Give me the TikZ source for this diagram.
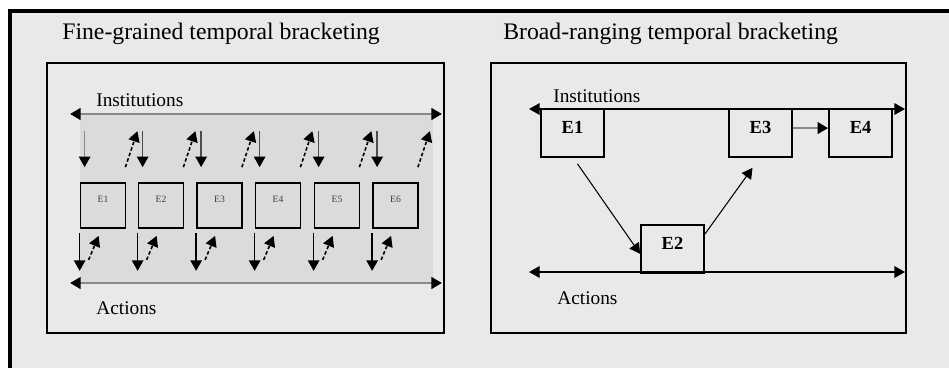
\documentclass[tikz,border=0pt]{standalone}
\usepackage{fontspec}
\setmainfont{Liberation Serif}
\usetikzlibrary{arrows.meta}
\definecolor{panelgray}{HTML}{E9E9E9}
\definecolor{bandgray}{HTML}{DBDBDB}
\definecolor{linegray}{HTML}{8A8A8A}

\begin{document}
\begin{tikzpicture}[x=0.02cm, y=-0.02cm,
    >={Triangle[length=6pt, width=6.5pt, color=black]},
    title/.style={anchor=base west, inner sep=0pt, font=\fontsize{13.5}{16}\selectfont},
    lvl/.style={anchor=west, inner sep=0pt, font=\fontsize{11}{13}\selectfont},
    ebox/.style={draw, line width=1pt, minimum width=0.9cm, minimum height=0.9cm, inner sep=0pt},
    elbl/.style={yshift=3.7pt, inner sep=0pt, text=black!75, font=\fontsize{5.5}{6}\selectfont},
    bigbox/.style={draw, line width=1pt, minimum width=1.26cm, minimum height=0.96cm, inner sep=0pt},
    biglbl/.style={yshift=3pt, inner sep=0pt, font=\bfseries\fontsize{10.5}{12}\selectfont},
    dsh/.style={->, line width=0.9pt, dash pattern=on 2pt off 1.3pt}]
  \useasboundingbox (0,0) rectangle (949,368);
  \clip (0,0) rectangle (949,368);

  % Outer frame (runs off the page at right and bottom)
  \draw[line width=2pt, fill=panelgray] (10,11) rectangle (990,400);

  % ---- Left panel: fine-grained ----
  \node[title] (ltitle) at (62,40) {Fine-grained temporal bracketing};
  \draw[line width=0.9pt] (47,63) rectangle (444,333);
  \fill[bandgray] (80,114) rectangle (433,283);

  \coordinate (linstA) at (70,114);
  \coordinate (linstB) at (442,114);
  \coordinate (lactA) at (70,283);
  \coordinate (lactB) at (442,283);
  \draw[<->, linegray, line width=1.6pt] (linstA) -- (linstB);
  \draw[<->, linegray, line width=1.6pt] (lactA) -- (lactB);
  \node[lvl] (linst) at (96,100) {Institutions};
  \node[lvl] (lact) at (96,308) {Actions};

  % Events placed horizontally
  \node[ebox, label={[elbl]center:E1}] (e1) at (103,205.5) {};
  \node[ebox, label={[elbl]center:E2}] (e2) at (161,205.5) {};
  \node[ebox, label={[elbl]center:E3}] (e3) at (219.5,205.5) {};
  \node[ebox, label={[elbl]center:E4}] (e4) at (278,205.5) {};
  \node[ebox, label={[elbl]center:E5}] (e5) at (337,205.5) {};
  \node[ebox, label={[elbl]center:E6}] (e6) at (395.5,205.5) {};

  % Institutions down to events
  \draw[->, linegray, line width=0.9pt] ([shift={(5,-51)}]e1.north west) -- ([shift={(5,-15)}]e1.north west);
  \draw[->, black!70, line width=0.9pt] ([shift={(5,-51)}]e2.north west) -- ([shift={(5,-15)}]e2.north west);
  \draw[->, black!70, line width=0.9pt] ([shift={(5,-51)}]e3.north west) -- ([shift={(5,-15)}]e3.north west);
  \draw[->, black!70, line width=0.9pt] ([shift={(5,-51)}]e4.north west) -- ([shift={(5,-15)}]e4.north west);
  \draw[->, black!70, line width=0.9pt] ([shift={(5,-51)}]e5.north west) -- ([shift={(5,-15)}]e5.north west);
  \draw[->, black!70, line width=0.9pt] ([shift={(5,-51)}]e6.north west) -- ([shift={(5,-15)}]e6.north west);

  % Events back up to institutions (dashed)
  \draw[dsh] ([shift={(-1,-15)}]e1.north east) -- ([shift={(11,-51)}]e1.north east);
  \draw[dsh] ([shift={(-1,-15)}]e2.north east) -- ([shift={(11,-51)}]e2.north east);
  \draw[dsh] ([shift={(-1,-15)}]e3.north east) -- ([shift={(11,-51)}]e3.north east);
  \draw[dsh] ([shift={(-1,-15)}]e4.north east) -- ([shift={(11,-51)}]e4.north east);
  \draw[dsh] ([shift={(-1,-15)}]e5.north east) -- ([shift={(11,-51)}]e5.north east);
  \draw[dsh] ([shift={(-1,-15)}]e6.north east) -- ([shift={(11,-51)}]e6.north east);

  % Events down to actions, and back up
  \draw[->, line width=0.9pt] ([shift={(0,4)}]e1.south west) -- ([shift={(0,42)}]e1.south west);
  \draw[->, line width=0.9pt] ([shift={(0,4)}]e2.south west) -- ([shift={(0,42)}]e2.south west);
  \draw[->, line width=0.9pt] ([shift={(0,4)}]e3.south west) -- ([shift={(0,42)}]e3.south west);
  \draw[->, line width=0.9pt] ([shift={(0,4)}]e4.south west) -- ([shift={(0,42)}]e4.south west);
  \draw[->, line width=0.9pt] ([shift={(0,4)}]e5.south west) -- ([shift={(0,42)}]e5.south west);
  \draw[->, line width=0.9pt] ([shift={(0,4)}]e6.south west) -- ([shift={(0,42)}]e6.south west);
  \draw[dsh] ([shift={(9,31)}]e1.south west) -- ([shift={(19,7)}]e1.south west);
  \draw[dsh] ([shift={(9,31)}]e2.south west) -- ([shift={(19,7)}]e2.south west);
  \draw[dsh] ([shift={(9,31)}]e3.south west) -- ([shift={(19,7)}]e3.south west);
  \draw[dsh] ([shift={(9,31)}]e4.south west) -- ([shift={(19,7)}]e4.south west);
  \draw[dsh] ([shift={(9,31)}]e5.south west) -- ([shift={(19,7)}]e5.south west);
  \draw[dsh] ([shift={(9,31)}]e6.south west) -- ([shift={(19,7)}]e6.south west);

  % ---- Right panel: broad-ranging ----
  \node[title] (rtitle) at (503,40) {Broad-ranging temporal bracketing};
  \draw[line width=0.9pt] (491,63) rectangle (906,333);

  \coordinate (rinstA) at (529,109);
  \coordinate (rinstB) at (905,109);
  \coordinate (ractA) at (529,272);
  \coordinate (ractB) at (905,272);
  \draw[<->, line width=0.9pt] (rinstA) -- (rinstB);
  \draw[<->, line width=0.9pt] (ractA) -- (ractB);
  \node[lvl] (rinst) at (553,96) {Institutions};
  \node[lvl] (ract) at (557,298) {Actions};

  \node[bigbox, label={[biglbl]center:E1}] (b1) at (572.5,133) {};
  \node[bigbox, label={[biglbl]center:E2}] (b2) at (672.5,249) {};
  \node[bigbox, label={[biglbl]center:E3}] (b3) at (760.5,133) {};
  \node[bigbox, label={[biglbl]center:E4}] (b4) at (860.5,133) {};

  % Jumps between the two levels
  \draw[->, line width=0.6pt] ([shift={(5,6)}]b1.south) -- ([shift={(0,-20)}]b2.south west);
  \draw[->, line width=0.6pt] ([shift={(0,10)}]b2.north east) -- ([shift={(-8,10)}]b3.south);
  \draw[->, linegray, line width=1.6pt] ([yshift=2.8pt]b3.east) -- ([yshift=2.8pt]b4.west);
\end{tikzpicture}
\end{document}
